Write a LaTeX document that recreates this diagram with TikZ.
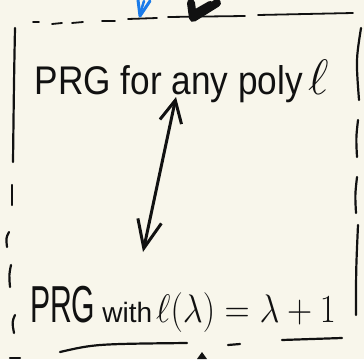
\documentclass[tikz,border=0pt]{standalone}
\usepackage{fontspec}
\setmainfont{Liberation Sans}
\usetikzlibrary{arrows.meta}
\definecolor{paper}{HTML}{F8F6EB}
\definecolor{ink}{HTML}{111111}
\definecolor{penblue}{HTML}{1A7BEA}
\tikzset{
  pen/.style={draw=ink, line width=2.2pt, line cap=round, line join=round},
  thinpen/.style={draw=ink, line width=1.8pt, line cap=round},
  dblarrow/.style={draw=ink, line width=3pt, line cap=round,
    {Straight Barb[length=22pt,width=22pt,line width=3pt]}-{Straight Barb[length=28pt,width=24pt,line width=3pt]}},
  label/.style={text=ink, inner sep=0pt, anchor=base}
}
\begin{document}
\begin{tikzpicture}[x=1pt, y=-1pt]
  % paper
  \fill[paper] (0,0) rectangle (364,359);
  \useasboundingbox (0,0) rectangle (364,359);

  % top edge: dashes, then longer strokes
  \draw[thinpen] (33,22) -- (39,22);
  \draw[thinpen] (52,24) -- (62,23);
  \draw[thinpen] (72,23) -- (83,22);
  \draw[thinpen] (102,21) -- (115,21);
  \draw[thinpen] (128,19) -- (157,18);
  \draw[thinpen] (168,17) -- (245,16);
  \draw[thinpen] (258,15) -- (353,13);

  % incoming arrow tips at the top
  \draw[draw=penblue, line width=3pt, line cap=round, line join=round]
    (138,0) -- (140,16) -- (150,1);
  \draw[draw=penblue, line width=2.5pt, line cap=round] (144,1) -- (140,14);
  \draw[ink, line width=8pt, line cap=round, line join=round]
    (191,3) -- (193,18) -- (217,3);
  \draw[ink, line width=6pt, line cap=round] (196,12) -- (210,4);

  % left edge
  \draw[pen] (15,28) .. controls (14,80) .. (13,162);
  \draw[pen] (12,185) -- (12,205);
  \draw[pen] (9,232) .. controls (6,238) .. (7,247);
  \draw[pen] (11,265) .. controls (9,275) .. (10,287);
  \draw[pen] (15,315) .. controls (12,322) .. (14,333);

  % right edge
  \draw[pen] (361,28) .. controls (356,60) .. (359,100);
  \draw[pen] (358,120) .. controls (356,138) .. (357,157);
  \draw[pen] (357,177) .. controls (355,195) .. (356,213);
  \draw[pen] (358,225) .. controls (356,270) .. (356,315);

  % bottom edge
  \draw[pen] (60,352) .. controls (95,344) .. (187,343);
  \draw[pen] (228,345) -- (240,344);
  \draw[pen] (282,340) -- (342,338);
  \draw[pen] (10,358) -- (20,358);
  \fill[ink] (197,359) -- (202,352) -- (207,359) -- cycle;

  % statements (math is set at 24.88pt and enlarged with \scalebox)
  \node[label, font=\fontsize{40}{40}\selectfont] (poly) at (182,94)
    {\scalebox{0.88}[1]{PRG for any poly}\hspace{6pt}\scalebox{2.0}{\fontsize{24.88}{25}\selectfont$\ell$}};
  \node[label] (lin) at (183,322)
    {\scalebox{0.58}[1]{\fontsize{52}{52}\selectfont PRG}\hspace{7pt}{\fontsize{28}{28}\selectfont with}\hspace{4pt}\scalebox{1.4}[1.6]{\fontsize{24.88}{25}\selectfont $\ell(\lambda)=\lambda+1$}};

  % equivalence arrow
  \draw[dblarrow] ([shift={(-6,3)}]poly.base) -- ([shift={(-40,-70)}]lin.base);
\end{tikzpicture}
\end{document}
